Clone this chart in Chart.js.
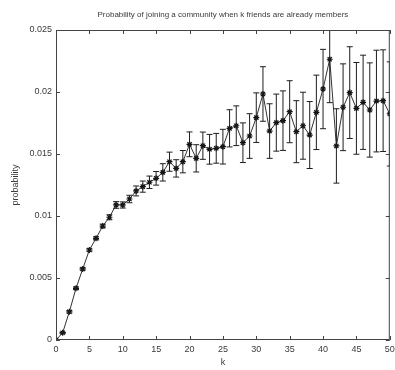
<!DOCTYPE html>
<html>
<head>
<meta charset="utf-8">
<script src="https://cdn.jsdelivr.net/npm/chart.js@4/dist/chart.umd.min.js"></script>
<style>
  html, body { margin: 0; padding: 0; background: #fff; }
  canvas { display: block; }
</style>
</head>
<body>
<canvas id="joinChart" width="395" height="370"></canvas>
<script>
// number of friends already in the community
var friends = [];
for (var n = 0; n <= 50; n++) friends.push(n);

// probability of joining
var joinProb = [
    0, 0.00059, 0.00228, 0.00417, 0.00573, 0.00726, 0.0082, 0.00919, 0.0099, 0.01089,
    0.01089, 0.01137, 0.01202, 0.01237, 0.01272, 0.01304, 0.01352, 0.01438, 0.01384, 0.01438,
    0.01578, 0.01465, 0.01567, 0.01538, 0.01546, 0.01559, 0.01707, 0.01728, 0.01591, 0.01645,
    0.01793, 0.01984, 0.01685, 0.01753, 0.01769, 0.01841, 0.0168, 0.01728, 0.01653, 0.01836,
    0.02024, 0.02264, 0.01565, 0.01877, 0.01995, 0.01868, 0.01917, 0.01855, 0.01927, 0.0193,
    0.01823
];

// half-width of the error bars
var joinErr = [
    0, 0.00005, 0.0001, 0.0001, 0.0001, 0.0001, 0.00012, 0.00015, 0.0002, 0.00027,
    0.00025, 0.0003, 0.0004, 0.00045, 0.0005, 0.00055, 0.0007, 0.00077, 0.0007, 0.0009,
    0.001, 0.0011, 0.0011, 0.0012, 0.0012, 0.0014, 0.0015, 0.0016, 0.0016, 0.0018,
    0.002, 0.0022, 0.0022, 0.0023, 0.0024, 0.0025, 0.0025, 0.0027, 0.0027, 0.003,
    0.0032, 0.0035, 0.003, 0.0035, 0.0037, 0.0037, 0.0038, 0.0038, 0.0041, 0.0041,
    0.0042
];

var FONT = "'Liberation Sans', Arial, sans-serif";
var TEXT = '#3a3a3a';

// vertical error bars with small caps, clipped to the axes box
var errorBars = {
    id: 'errorBars',
    afterDatasetsDraw: function (chart) {
        var ctx = chart.ctx, area = chart.chartArea;
        var xs = chart.scales.x, ys = chart.scales.y;
        ctx.save();
        ctx.beginPath();
        ctx.rect(area.left, area.top, area.right - area.left, area.bottom - area.top);
        ctx.clip();
        ctx.strokeStyle = '#1e1e1e';
        ctx.lineWidth = 1;
        for (var i = 0; i < friends.length; i++) {
            if (!joinErr[i]) continue;
            var x = xs.getPixelForValue(friends[i]);
            var yt = ys.getPixelForValue(joinProb[i] + joinErr[i]);
            var yb = ys.getPixelForValue(joinProb[i] - joinErr[i]);
            ctx.beginPath();
            ctx.moveTo(x, yt); ctx.lineTo(x, yb);
            ctx.moveTo(x - 3, yt); ctx.lineTo(x + 3, yt);
            ctx.moveTo(x - 3, yb); ctx.lineTo(x + 3, yb);
            ctx.stroke();
        }
        ctx.restore();
    }
};

// box round the plot with inward ticks on all four sides
var axesBox = {
    id: 'axesBox',
    afterDraw: function (chart) {
        var ctx = chart.ctx, a = chart.chartArea;
        var xs = chart.scales.x, ys = chart.scales.y;
        var len = 4;
        ctx.save();
        ctx.strokeStyle = '#444';
        ctx.lineWidth = 1;
        ctx.beginPath();
        xs.ticks.forEach(function (t) {
            var x = Math.round(xs.getPixelForValue(t.value)) + 0.5;
            ctx.moveTo(x, a.bottom); ctx.lineTo(x, a.bottom - len);
            ctx.moveTo(x, a.top); ctx.lineTo(x, a.top + len);
        });
        ys.ticks.forEach(function (t) {
            var y = Math.round(ys.getPixelForValue(t.value)) + 0.5;
            ctx.moveTo(a.left, y); ctx.lineTo(a.left + len, y);
            ctx.moveTo(a.right, y); ctx.lineTo(a.right - len, y);
        });
        ctx.stroke();
        ctx.strokeRect(a.left + 0.5, a.top + 0.5, a.right - a.left - 1, a.bottom - a.top - 1);
        ctx.restore();
    }
};

var ctx = document.getElementById('joinChart').getContext('2d');
new Chart(ctx, {
    type: 'line',
    data: {
        datasets: [{
            data: friends.map(function (k, i) { return { x: k, y: joinProb[i] }; }),
            borderColor: '#333',
            borderWidth: 1,
            tension: 0,
            pointStyle: 'star',
            pointRadius: 3,
            pointBorderColor: '#111',
            pointBackgroundColor: '#111',
            pointBorderWidth: 1.2
        }]
    },
    options: {
        responsive: false,
        animation: false,
        layout: { padding: { left: 0, right: 3, top: 0, bottom: 0 } },
        plugins: {
            legend: { display: false },
            tooltip: { enabled: false },
            title: {
                display: true,
                fullSize: false,
                text: 'Probability of joining a community when k friends are already members',
                color: TEXT,
                font: { family: FONT, size: 8, weight: 'normal', lineHeight: 1.2 },
                padding: { top: 9.5, bottom: 10.9 }
            }
        },
        scales: {
            x: {
                type: 'linear',
                min: 0,
                max: 50,
                grid: { display: false, drawTicks: false },
                border: { display: false },
                ticks: {
                    stepSize: 5,
                    maxRotation: 0,
                    padding: 4,
                    color: TEXT,
                    font: { family: FONT, size: 9 }
                },
                title: {
                    display: true,
                    text: 'k',
                    color: TEXT,
                    font: { family: FONT, size: 9 },
                    padding: { top: 0, bottom: 2 }
                },
                afterFit: function (scale) {
                    scale.height = 30;
                    scale.paddingRight = 0;
                    scale.paddingLeft = 0;
                }
            },
            y: {
                min: 0,
                max: 0.025,
                grid: { display: false, drawTicks: false },
                border: { display: false },
                ticks: {
                    stepSize: 0.005,
                    padding: 4,
                    color: TEXT,
                    font: { family: FONT, size: 9 },
                    callback: function (v) { return String(+v.toFixed(3)); }
                },
                title: {
                    display: true,
                    text: 'probability',
                    color: TEXT,
                    font: { family: FONT, size: 9 },
                    padding: { top: 10, bottom: 0 }
                },
                afterFit: function (scale) {
                    scale.width = 56;
                    scale.paddingTop = 0;
                    scale.paddingBottom = 0;
                }
            }
        }
    },
    plugins: [errorBars, axesBox]
});
</script>
</body>
</html>
